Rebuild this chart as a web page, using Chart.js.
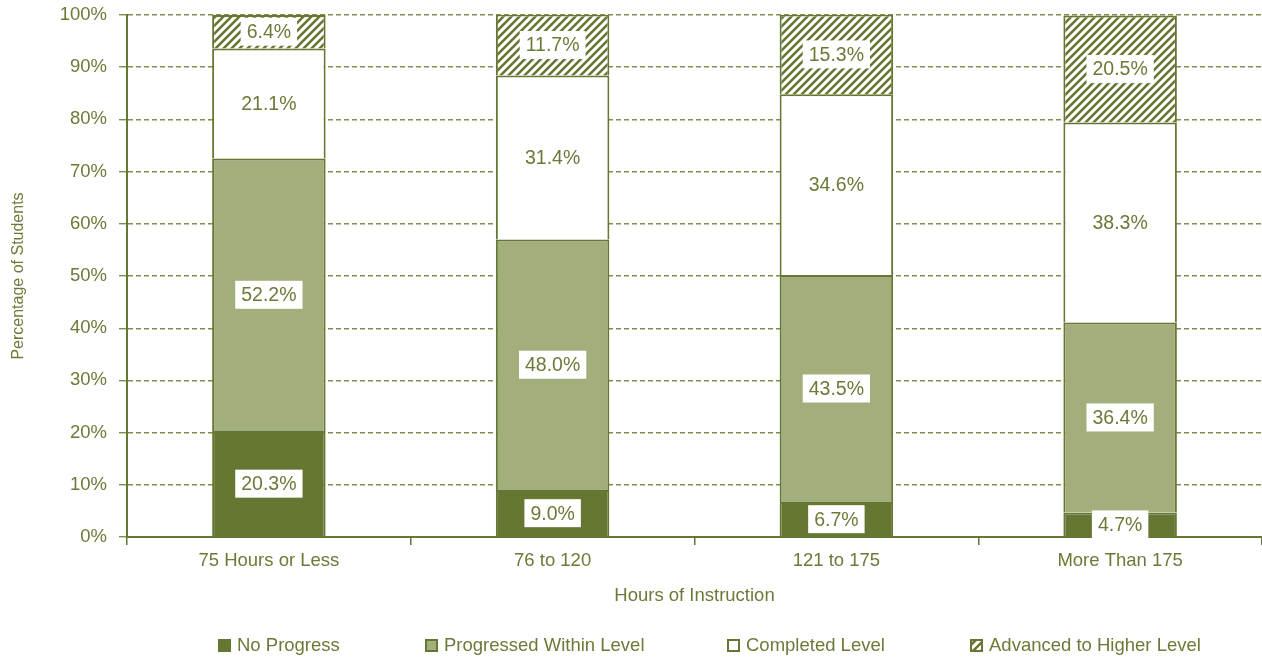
<!DOCTYPE html>
<html>
<head>
<meta charset="utf-8">
<script src="https://cdn.jsdelivr.net/npm/chart.js@4.4.1/dist/chart.umd.min.js"></script>
<style>
	html, body { margin: 0; padding: 0; background: #fff; }
</style>
</head>
<body>
<canvas id="hoursChart" width="1262" height="658"></canvas>
<script>
// data
const categories = ["75 Hours or Less", "76 to 120", "121 to 175", "More Than 175"];
const noProgress = [20.3, 9.0, 6.7, 4.7];
const progressedWithin = [52.2, 48.0, 43.5, 36.4];
const completedLevel = [21.1, 31.4, 34.6, 38.3];
const advancedHigher = [6.4, 11.7, 15.3, 20.5];
const seriesNames = ["No Progress", "Progressed Within Level", "Completed Level", "Advanced to Higher Level"];
const yMin = 0;
const yMax = 100;
const yStep = 10;

const DARK = "#657733";
const LIGHT = "#a3ae7d";
const TEXT = "#6a7b38";
const GRID = "#7f8e4c";
const FONT = "'Liberation Sans', Arial, sans-serif";

// diagonal hatch for the top segment
function makeHatch() {
	const c = document.createElement("canvas");
	c.width = 8;
	c.height = 8;
	const g = c.getContext("2d");
	g.fillStyle = "#fff";
	g.fillRect(0, 0, 8, 8);
	g.strokeStyle = DARK;
	g.lineWidth = 2.6;
	g.beginPath();
	g.moveTo(-4, 4); g.lineTo(4, -4);
	g.moveTo(0, 8); g.lineTo(8, 0);
	g.moveTo(4, 12); g.lineTo(12, 4);
	g.stroke();
	return g.createPattern(c, "repeat");
}
const hatch = makeHatch();

// white boxes with the value in the middle of each segment
const valueLabels = {
	id: "valueLabels",
	afterDatasetsDraw(chart) {
		const ctx = chart.ctx;
		ctx.save();
		ctx.font = "19.5px " + FONT;
		ctx.textAlign = "center";
		ctx.textBaseline = "middle";
		chart.data.datasets.forEach((ds, i) => {
			const meta = chart.getDatasetMeta(i);
			meta.data.forEach((bar, j) => {
				const txt = ds.data[j].toFixed(1) + "%";
				const cy = (bar.y + bar.base) / 2;
				const w = ctx.measureText(txt).width + 12;
				const h = 28;
				ctx.fillStyle = "#fff";
				ctx.fillRect(bar.x - w / 2, cy - h / 2, w, h);
				ctx.fillStyle = TEXT;
				ctx.fillText(txt, bar.x, cy + 1);
			});
		});
		ctx.restore();
	}
};

// legend along the bottom
const legendX = [218, 425, 727, 970];
const bottomLegend = {
	id: "bottomLegend",
	afterDraw(chart) {
		const ctx = chart.ctx;
		ctx.save();
		ctx.font = "18.5px " + FONT;
		ctx.textBaseline = "middle";
		ctx.textAlign = "left";
		chart.data.datasets.forEach((ds, i) => {
			const x = legendX[i];
			const y = 639;
			ctx.fillStyle = ds.backgroundColor;
			ctx.fillRect(x, y, 13, 13);
			ctx.strokeStyle = DARK;
			ctx.lineWidth = 2;
			ctx.strokeRect(x + 1, y + 1, 11, 11);
			ctx.fillStyle = TEXT;
			ctx.fillText(ds.label, x + 19, y + 7);
		});
		ctx.restore();
	}
};

const common = {
	borderColor: DARK,
	borderWidth: 2,
	borderSkipped: "start",
	barPercentage: 0.4,
	categoryPercentage: 1.0
};

new Chart(document.getElementById("hoursChart"), {
	type: "bar",
	data: {
		labels: categories,
		datasets: [
			{ label: seriesNames[0], data: noProgress, backgroundColor: DARK, ...common },
			{ label: seriesNames[1], data: progressedWithin, backgroundColor: LIGHT, ...common },
			{ label: seriesNames[2], data: completedLevel, backgroundColor: "#ffffff", ...common },
			{ label: seriesNames[3], data: advancedHigher, backgroundColor: hatch, ...common }
		]
	},
	options: {
		responsive: false,
		animation: false,
		layout: { padding: { top: 15, right: 0, bottom: 51, left: 0 } },
		plugins: {
			legend: { display: false },
			tooltip: { enabled: false }
		},
		scales: {
			x: {
				stacked: true,
				afterFit: (s) => { s.height = 70; },
				border: { display: true, color: DARK, width: 2 },
				grid: {
					drawOnChartArea: false,
					drawTicks: true,
					tickLength: 8,
					color: DARK,
					lineWidth: 1.5
				},
				ticks: { color: TEXT, padding: 5, font: { family: FONT, size: 18.5 } },
				title: {
					display: true,
					text: "Hours of Instruction",
					color: TEXT,
					padding: 0,
					font: { family: FONT, size: 18.5 }
				}
			},
			y: {
				stacked: true,
				min: yMin,
				max: yMax,
				afterFit: (s) => {
					s.width = 127;
					s.paddingTop = 0;
					s.paddingBottom = 0;
				},
				border: { display: true, color: DARK, width: 2, dash: [5, 3] },
				grid: {
					color: GRID,
					lineWidth: 1.4,
					tickLength: 8,
					tickColor: GRID
				},
				ticks: {
					stepSize: yStep,
					color: TEXT,
					padding: 12,
					font: { family: FONT, size: 18.5 },
					callback: (v) => v + "%"
				},
				title: {
					display: true,
					text: "Percentage of Students",
					color: TEXT,
					padding: { top: 9, bottom: 0 },
					font: { family: FONT, size: 16 }
				}
			}
		}
	},
	plugins: [valueLabels, bottomLegend]
});
</script>
</body>
</html>
